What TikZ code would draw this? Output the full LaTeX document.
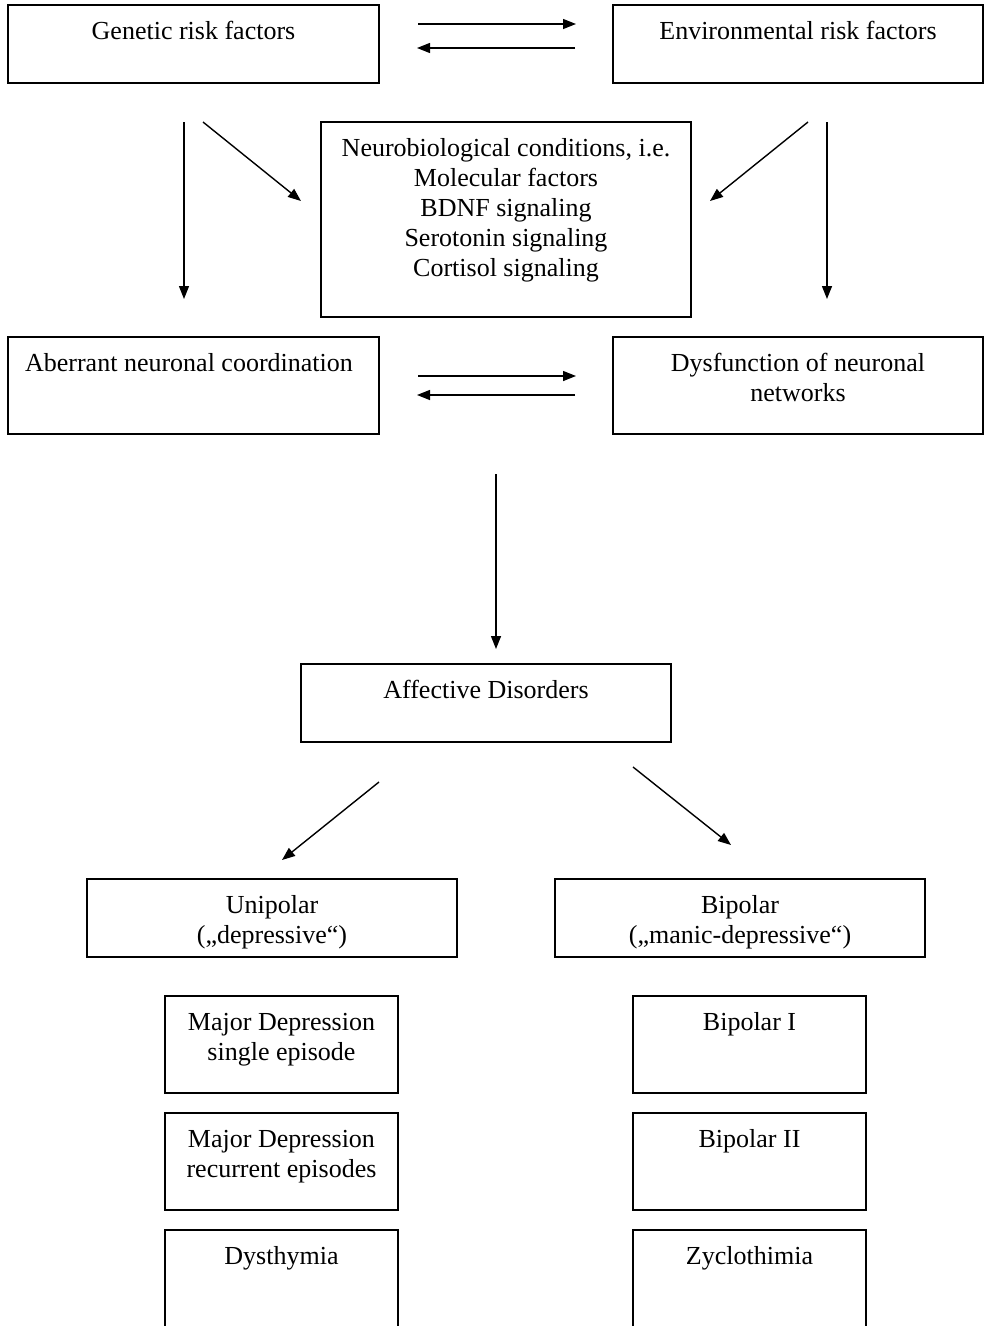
\documentclass[tikz,border=0pt]{standalone}
\usepackage{fontspec}
\setmainfont{Liberation Serif}
\usetikzlibrary{arrows.meta}
\begin{document}
\begin{tikzpicture}[x=1pt,y=-1pt,
  box/.style={draw, line width=1.3pt, inner sep=0pt},
  lbl/.style={anchor=base, align=center, inner sep=0pt, font=\fontsize{26}{30}\selectfont},
  arr/.style={line width=1.4pt, -{Triangle[length=13pt,width=10pt]}}]
\clip (0,0) rectangle (984,1326);
\useasboundingbox (0,0) rectangle (984,1326);
\fill[white] (0,0) rectangle (984,1326);
% boxes
\node[box, minimum width=371pt, minimum height=78pt] (gen) at (193.5,44) {};
\node[box, minimum width=370pt, minimum height=78pt] (env) at (798,44) {};
\node[box, minimum width=370pt, minimum height=195pt] (neu) at (506,219.5) {};
\node[box, minimum width=371pt, minimum height=97pt] (abe) at (193.5,385.5) {};
\node[box, minimum width=370pt, minimum height=97pt] (dys) at (798,385.5) {};
\node[box, minimum width=370pt, minimum height=78pt] (aff) at (486,703) {};
\node[box, minimum width=370pt, minimum height=78pt] (uni) at (272,918) {};
\node[box, minimum width=370pt, minimum height=78pt] (bip) at (740,918) {};
\node[box, minimum width=233pt, minimum height=97pt] (md1) at (281.5,1044.5) {};
\node[box, minimum width=233pt, minimum height=97pt] (md2) at (281.5,1161.5) {};
\node[box, minimum width=233pt, minimum height=97pt] (dth) at (281.5,1278.5) {};
\node[box, minimum width=233pt, minimum height=97pt] (bp1) at (749.5,1044.5) {};
\node[box, minimum width=233pt, minimum height=97pt] (bp2) at (749.5,1161.5) {};
\node[box, minimum width=233pt, minimum height=97pt] (zyc) at (749.5,1278.5) {};
% labels (base anchor = baseline of the last line)
\node[lbl] (genT) at ([yshift=-35pt]gen.north) {Genetic risk factors};
\node[lbl] (envT) at ([yshift=-35pt]env.north) {Environmental risk factors};
\node[lbl] (neuT) at ([yshift=-155pt]neu.north) {Neurobiological conditions, i.e.\\Molecular factors\\BDNF signaling\\Serotonin signaling\\Cortisol signaling};
\node[lbl] (abeT) at ([xshift=-4.5pt,yshift=-35pt]abe.north) {Aberrant neuronal coordination};
\node[lbl] (dysT) at ([yshift=-65pt]dys.north) {Dysfunction of neuronal\\networks};
\node[lbl] (affT) at ([yshift=-35pt]aff.north) {Affective Disorders};
\node[lbl] (uniT) at ([yshift=-65pt]uni.north) {Unipolar\\(„depressive“)};
\node[lbl] (bipT) at ([yshift=-65pt]bip.north) {Bipolar\\(„manic-depressive“)};
\node[lbl] (md1T) at ([yshift=-65pt]md1.north) {Major Depression\\single episode};
\node[lbl] (md2T) at ([yshift=-65pt]md2.north) {Major Depression\\recurrent episodes};
\node[lbl] (dthT) at ([yshift=-35pt]dth.north) {Dysthymia};
\node[lbl] (bp1T) at ([yshift=-35pt]bp1.north) {Bipolar I};
\node[lbl] (bp2T) at ([yshift=-35pt]bp2.north) {Bipolar II};
\node[lbl] (zycT) at ([yshift=-35pt]zyc.north) {Zyclothimia};
% connector end points
\coordinate (p1) at (418,24);  \coordinate (p2) at (576,24);
\coordinate (p3) at (575,48);  \coordinate (p4) at (417,48);
\coordinate (q1) at (184,122); \coordinate (q2) at (184,299);
\coordinate (q3) at (203,122); \coordinate (q4) at (301,201);
\coordinate (q5) at (808,122); \coordinate (q6) at (710,201);
\coordinate (q7) at (827,122); \coordinate (q8) at (827,299);
\coordinate (r1) at (418,376); \coordinate (r2) at (576,376);
\coordinate (r3) at (575,395); \coordinate (r4) at (417,395);
\coordinate (s1) at (496,474); \coordinate (s2) at (496,649);
\coordinate (t1) at (379,782); \coordinate (t2) at (282,860);
\coordinate (t3) at (633,767); \coordinate (t4) at (731,845);
% connectors
\draw[arr] (p1) -- (p2);
\draw[arr] (p3) -- (p4);
\draw[arr] (q1) -- (q2);
\draw[arr] (q3) -- (q4);
\draw[arr] (q5) -- (q6);
\draw[arr] (q7) -- (q8);
\draw[arr] (r1) -- (r2);
\draw[arr] (r3) -- (r4);
\draw[arr] (s1) -- (s2);
\draw[arr] (t1) -- (t2);
\draw[arr] (t3) -- (t4);
\end{tikzpicture}
\end{document}
